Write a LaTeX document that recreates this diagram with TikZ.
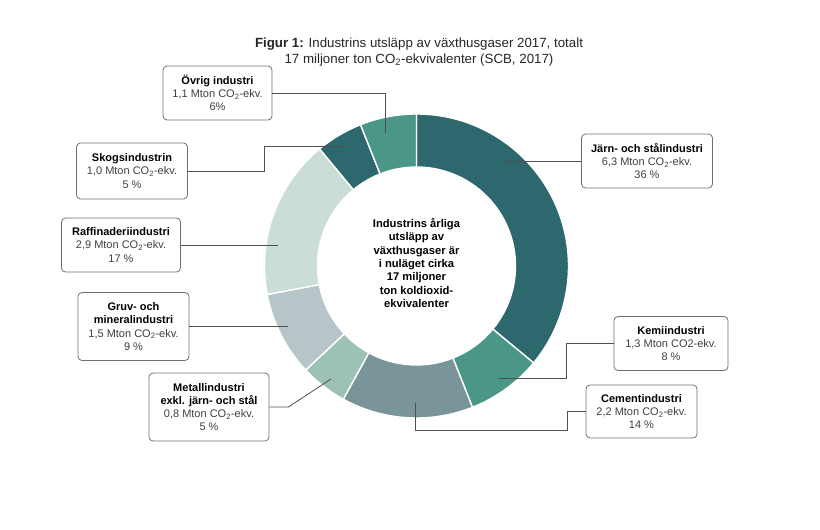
\documentclass[tikz,border=0pt]{standalone}
\usepackage{fontspec}
\setmainfont{Liberation Sans}
\definecolor{jarncol}{HTML}{2C686E}
\definecolor{kemicol}{HTML}{4A9787}
\definecolor{cementcol}{HTML}{7A9599}
\definecolor{metallcol}{HTML}{9BC2B4}
\definecolor{gruvcol}{HTML}{B8C5C8}
\definecolor{raffcol}{HTML}{CADDD6}
\definecolor{boxline}{HTML}{707070}
\definecolor{leadcol}{HTML}{505050}
\begin{document}
\begin{tikzpicture}[x=1pt,y=-1pt,
   infobox/.style={draw=boxline,rounded corners=4pt,line width=0.8pt,fill=white,
      align=center,inner sep=2pt,text=black!75,font=\fontsize{11}{13.2}\selectfont},
   leader/.style={draw=leadcol,line width=0.8pt}]
   \useasboundingbox (0,0) rectangle (820,530);

   % title
   \node[align=center,font=\fontsize{13.3}{16}\selectfont,text=black!85] (title) at (419,52)
      {\textbf{Figur 1:} Industrins utsläpp av växthusgaser 2017, totalt\\
       17 miljoner ton CO\textsubscript{2}-ekvivalenter (SCB, 2017)};

   % donut, clockwise from the top
   \begin{scope}[shift={(416.5,266)}]
   \foreach \s/\e/\c in {0/36/jarncol,36/44/kemicol,44/58/cementcol,58/63/metallcol,
                         63/72/gruvcol,72/89/raffcol,89/94/jarncol,94/100/kemicol}{
      \pgfmathsetmacro\a{-90+3.6*\s}
      \pgfmathsetmacro\b{-90+3.6*\e}
      \filldraw[fill=\c,draw=white,line width=1.4pt]
         (\a:152) arc[start angle=\a,end angle=\b,radius=152]
         -- (\b:99) arc[start angle=\b,end angle=\a,radius=99] -- cycle;
   }
   \node[align=center,font=\bfseries\fontsize{11.2}{13.4}\selectfont] (centre) at (0,-3)
      {Industrins årliga\\utsläpp av\\växthusgaser är\\i nuläget cirka\\17 miljoner\\ton koldioxid-\\ekvivalenter};
   \end{scope}

   % label boxes
   \node[infobox,minimum width=109pt,minimum height=54pt] (ovrig) at (217.5,93)
      {\textbf{\textcolor{black}{Övrig industri}}\\1,1 Mton CO\textsubscript{2}-ekv.\\6\%};
   \node[infobox,minimum width=111pt,minimum height=56pt] (skog) at (132,171)
      {\textbf{\textcolor{black}{Skogsindustrin}}\\1,0 Mton CO\textsubscript{2}-ekv.\\5 \%};
   \node[infobox,minimum width=119pt,minimum height=54pt] (raff) at (121,245)
      {\textbf{\textcolor{black}{Raffinaderiindustri}}\\2,9 Mton CO\textsubscript{2}-ekv.\\17 \%};
   \node[infobox,minimum width=111pt,minimum height=68pt] (gruv) at (133.5,326.5)
      {\textbf{\textcolor{black}{Gruv- och}}\\\textbf{\textcolor{black}{mineralindustri}}\\1,5 Mton CO\textsubscript{2}-ekv.\\9 \%};
   \node[infobox,minimum width=120pt,minimum height=68pt] (metall) at (209,407)
      {\textbf{\textcolor{black}{Metallindustri}}\\\textbf{\textcolor{black}{exkl. järn- och stål}}\\0,8 Mton CO\textsubscript{2}-ekv.\\5 \%};
   \node[infobox,minimum width=131pt,minimum height=54pt] (jarn) at (647,161)
      {\textbf{\textcolor{black}{Järn- och stålindustri}}\\6,3 Mton CO\textsubscript{2}-ekv.\\36 \%};
   \node[infobox,minimum width=114pt,minimum height=54pt] (kemi) at (671,343.5)
      {\textbf{\textcolor{black}{Kemiindustri}}\\1,3 Mton CO2-ekv.\\8 \%};
   \node[infobox,minimum width=111pt,minimum height=53pt] (cement) at (641.5,411.5)
      {\textbf{\textcolor{black}{Cementindustri}}\\2,2 Mton CO\textsubscript{2}-ekv.\\14 \%};

   %%%%%%%%%% leader lines
   \coordinate (ovrig-end) at (385,133);
   \coordinate (skog-end) at (347,146);
   \coordinate (raff-end) at (278,245);
   \coordinate (gruv-end) at (288,326.5);
   \coordinate (metall-end) at (331,379);
   \coordinate (cement-end) at (415,403);
   \coordinate (cement-bend) at (567,430);
   \coordinate (kemi-bend) at (566,378);
   \coordinate (kemi-end) at (499,378);
   \coordinate (jarn-end) at (504,161);

   \draw[leader] (ovrig.east) -| (ovrig-end);
   \draw[leader] (skog.east) -- ++(76,0) |- (skog-end);
   \draw[leader] (raff.east) -- (raff-end);
   \draw[leader] (gruv.east) -- (gruv-end);
   \draw[leader] (metall.east) -- ++(19,0) -- (metall-end);
   \draw[leader] (cement-end) |- (cement-bend) |- (cement.west);
   \draw[leader] (kemi.west) -| (kemi-bend) -- (kemi-end);
   \draw[leader] (jarn.west) -- (jarn-end);
\end{tikzpicture}
\end{document}
